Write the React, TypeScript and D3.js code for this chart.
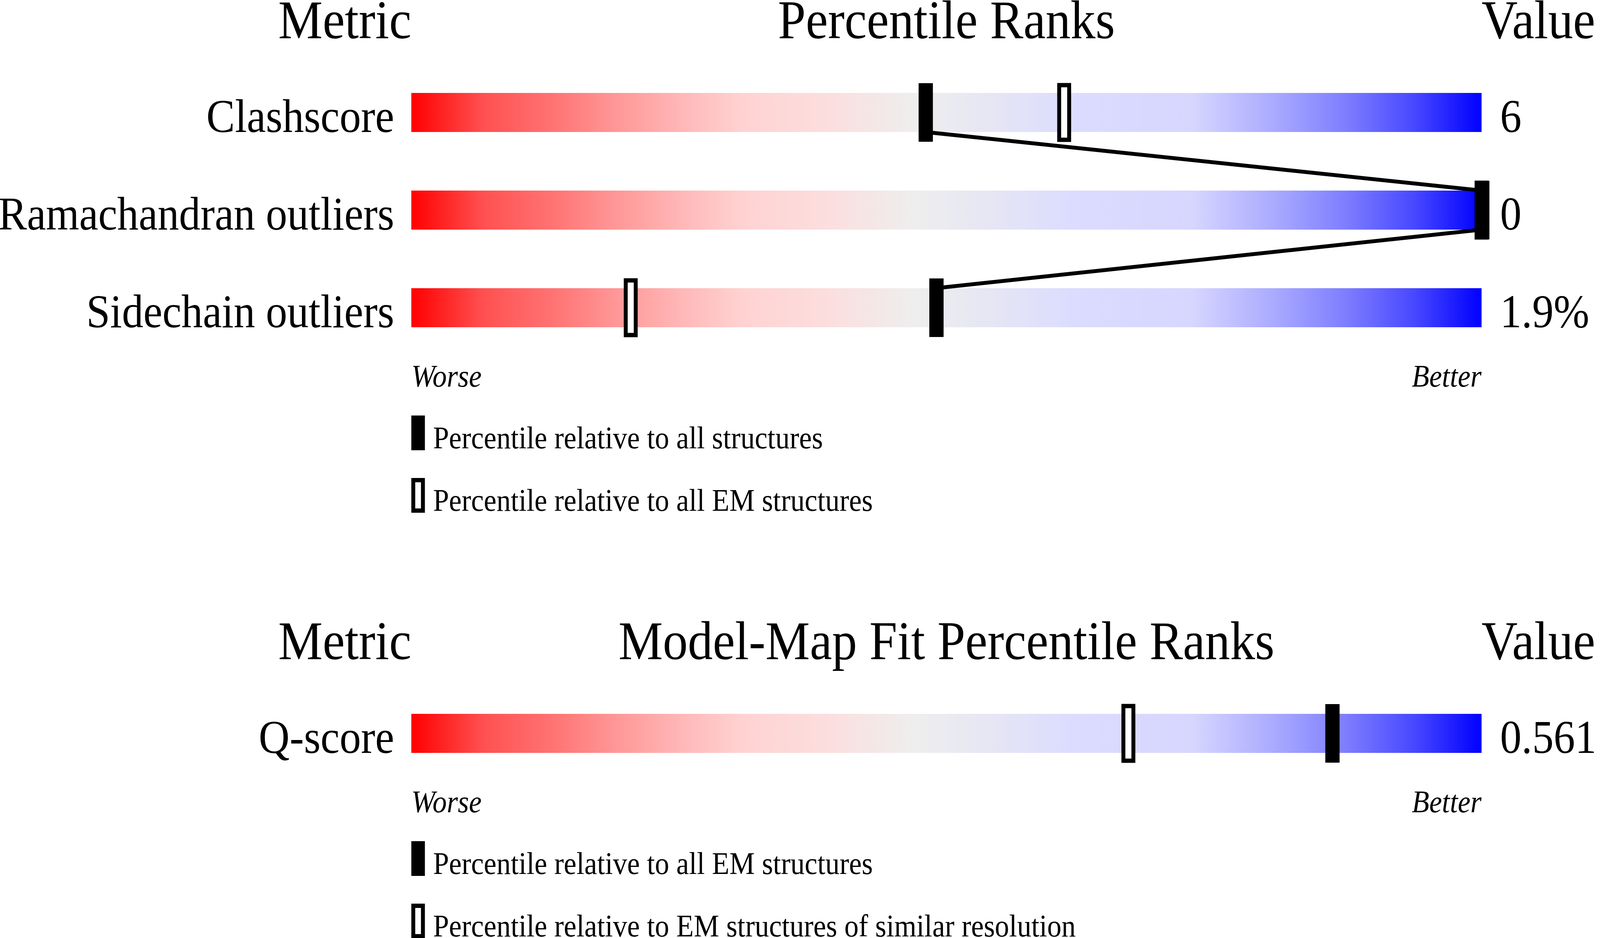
import * as React from 'react';
import * as d3 from 'd3';

// top panel
const metrics = ["Clashscore", "Ramachandran outliers", "Sidechain outliers"];
const allPercentiles = [48, 100, 49];
const emPercentiles = [61, 100, 20.5];
const values = ["6", "0", "1.9%"];
const legendTop = ["Percentile relative to all structures", "Percentile relative to all EM structures"];

// bottom panel
const fitMetrics = ["Q-score"];
const fitEmPercentiles = [86];
const fitResPercentiles = [67];
const fitValues = ["0.561"];
const legendBottom = ["Percentile relative to all EM structures", "Percentile relative to EM structures of similar resolution"];

const gradientStops: [number, string][] = [
    [0, "#ff0000"],
    [0.067, "#ff5050"],
    [0.13, "#ff7272"],
    [0.195, "#ff9999"],
    [0.26, "#ffbbbb"],
    [0.31, "#ffd2d2"],
    [0.39, "#fcdede"],
    [0.47, "#eeeeee"],
    [0.54, "#e6e6f4"],
    [0.615, "#dcdcff"],
    [0.73, "#d6d6ff"],
    [0.806, "#aaaaff"],
    [0.87, "#8080ff"],
    [0.937, "#4848ff"],
    [1, "#0000ff"],
];

const W = 4485, H = 2402;
const barLeft = 1153, barRight = 4153, barH = 100;
const font = "'Liberation Serif', 'Times New Roman', serif";

const x = d3.scaleLinear().domain([0, 100]).range([barLeft, barRight]);

interface PanelProps {
    top: number;
    title: string;
    rows: string[];
    filled: number[];
    hollow: number[];
    vals: string[];
    legend: string[];
    connect: boolean;
}

const Panel = ({ top, title, rows, filled, hollow, vals, legend, connect }: PanelProps) => {
    const barTop0 = top + 140;
    const y = d3.scalePoint().domain(rows).range([barTop0, barTop0 + 250 * (rows.length - 1)]);
    const lastBottom = (y(rows[rows.length - 1]) as number) + barH;
    const worseY = lastBottom + 152;
    const legY = lastBottom + 226;

    const lines = connect
        ? d3.pairs(rows.map((r, i) => ({ cx: x(filled[i]), yt: y(r) as number })))
        : [];

    return (
        <g>
            <text x={barLeft} y={top} textAnchor="end" fontSize={140} fontFamily={font}>Metric</text>
            <text x={(barLeft + barRight) / 2} y={top} textAnchor="middle" fontSize={140} fontFamily={font}>{title}</text>
            <text x={barRight} y={top} textAnchor="start" fontSize={140} fontFamily={font}>Value</text>

            {rows.map((r, i) => (
                <g key={r}>
                    <text x={barLeft - 48} y={(y(r) as number) + barH} textAnchor="end" fontSize={120} fontFamily={font}>{r}</text>
                    <rect x={barLeft} y={y(r)} width={barRight - barLeft} height={barH} fill="url(#slider)" />
                    <text x={barRight + 52} y={(y(r) as number) + barH} fontSize={120} fontFamily={font}>{vals[i]}</text>
                </g>
            ))}

            {lines.map(([a, b], i) => (
                <line key={i} x1={a.cx} y1={a.yt + barH} x2={b.cx} y2={b.yt} stroke="#000" strokeWidth={10} />
            ))}

            {rows.map((r, i) => (
                <g key={r + "-m"}>
                    <rect x={x(hollow[i]) - 14} y={(y(r) as number) - 20} width={28} height={barH + 40}
                        fill="#fff" stroke="#000" strokeWidth={11} />
                    <rect x={x(filled[i]) - 18} y={(y(r) as number) - 25} width={40} height={barH + 50} fill="#000" />
                </g>
            ))}

            <text x={barLeft} y={worseY} fontSize={80} fontStyle="italic" fontFamily={font}>Worse</text>
            <text x={barRight} y={worseY} textAnchor="end" fontSize={80} fontStyle="italic" fontFamily={font}>Better</text>

            <rect x={barLeft} y={legY} width={38} height={89} fill="#000" />
            <text x={barLeft + 61} y={legY + 84} fontSize={80} fontFamily={font}>{legend[0]}</text>
            <rect x={barLeft + 5.5} y={legY + 165.5} width={27} height={78} fill="#fff" stroke="#000" strokeWidth={11} />
            <text x={barLeft + 61} y={legY + 244} fontSize={80} fontFamily={font}>{legend[1]}</text>
        </g>
    );
};

const App = () => {
    return (
        <div style={{ position: 'absolute', left: 0, top: 0, width: '100vw', height: '100vh', overflow: 'hidden' }}>
            <svg viewBox={`0 0 ${W} ${H}`} preserveAspectRatio="none"
                style={{ display: 'block', width: '100vw', height: '100vh', background: '#fff' }}>
                <defs>
                    <linearGradient id="slider" x1="0" x2="1" y1="0" y2="0">
                        {gradientStops.map(([o, c]) => (
                            <stop key={o} offset={o} stopColor={c} />
                        ))}
                    </linearGradient>
                </defs>
                <Panel top={98} title="Percentile Ranks" rows={metrics} filled={allPercentiles}
                    hollow={emPercentiles} vals={values} legend={legendTop} connect={true} />
                <Panel top={1688} title="Model-Map Fit Percentile Ranks" rows={fitMetrics} filled={fitEmPercentiles}
                    hollow={fitResPercentiles} vals={fitValues} legend={legendBottom} connect={false} />
            </svg>
        </div>
    );
};

export default App;
